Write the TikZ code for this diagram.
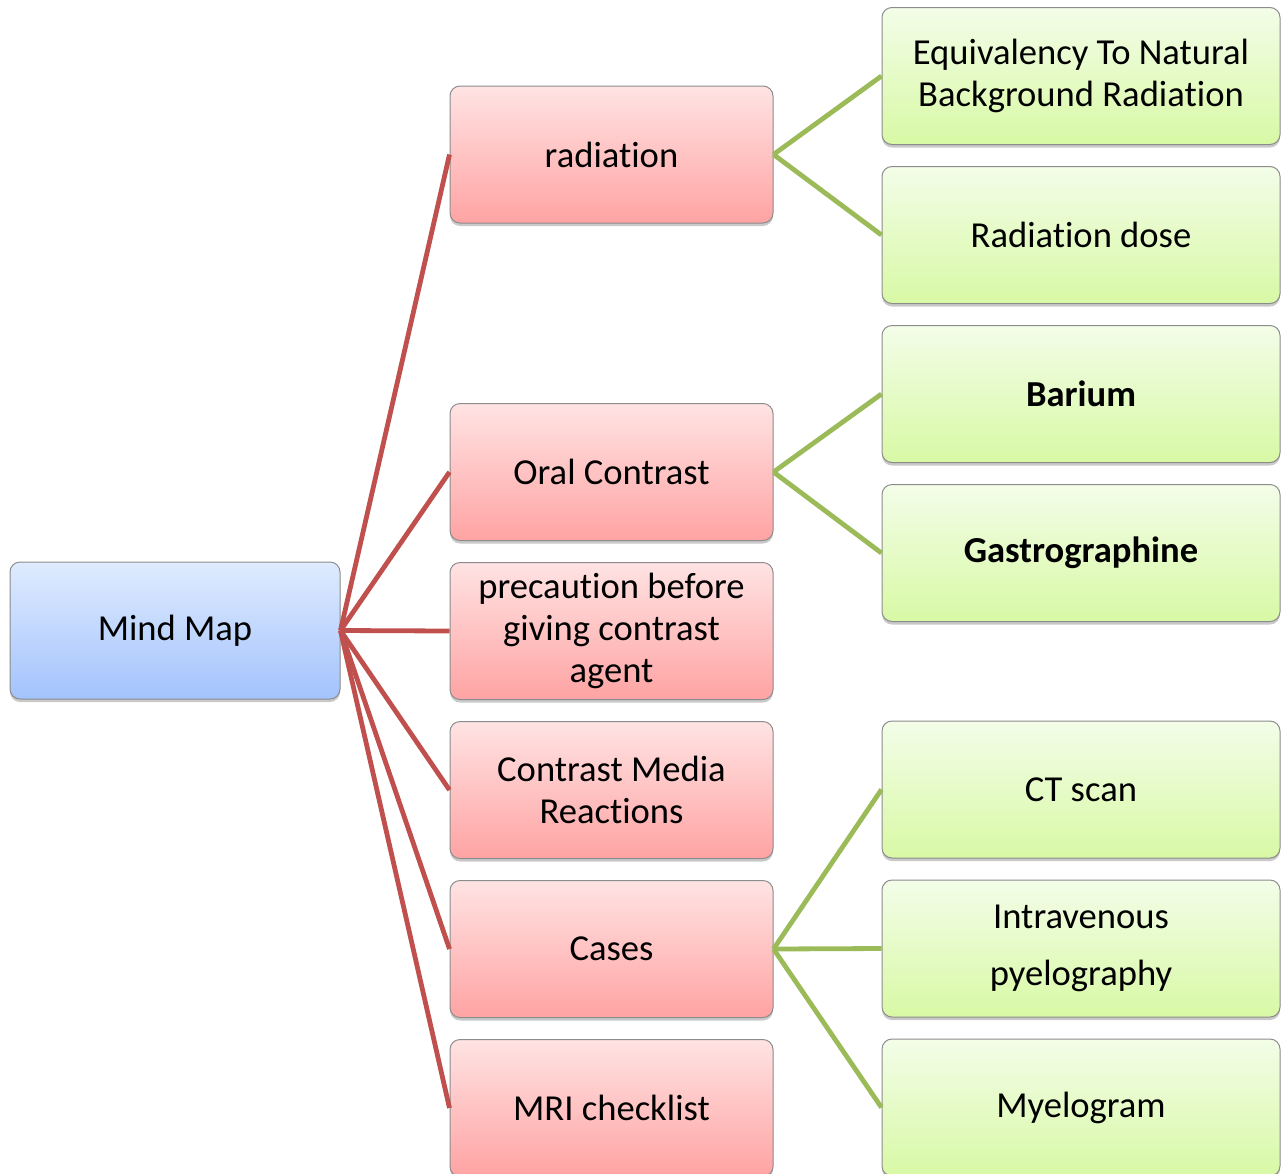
\documentclass[tikz,border=0pt]{standalone}
\usepackage{fontspec}
\setmainfont[Ligatures={NoCommon,NoContextual,NoRare}, Contextuals=NoAlternate]{Carlito}
\usetikzlibrary{positioning,shadows}

\definecolor{rootTop}{HTML}{DFEBFE}
\definecolor{rootBot}{HTML}{A3C3FD}
\definecolor{topicTop}{HTML}{FFE3E3}
\definecolor{topicBot}{HTML}{FFA3A3}
\definecolor{leafTop}{HTML}{F3FDE8}
\definecolor{leafBot}{HTML}{D8F9A5}
\definecolor{redLine}{HTML}{C0504D}
\definecolor{greenLine}{HTML}{9BBB59}

\begin{document}
\begin{tikzpicture}[
    x=0.5pt, y=-0.5pt,
    node distance=10.5pt and 55pt,
    mapbox/.style={rectangle, rounded corners=5pt, draw=black!45, line width=0.5pt, minimum height=68.5pt, align=center, font=\fontsize{18.3}{21}\selectfont, drop shadow={shadow xshift=0pt, shadow yshift=-1.5pt, opacity=0.3, fill=black!70}},
    rootbox/.style={mapbox, top color=rootTop, bottom color=rootBot, minimum width=165pt},
    topicbox/.style={mapbox, top color=topicTop, bottom color=topicBot, minimum width=161.5pt},
    leafbox/.style={mapbox, top color=leafTop, bottom color=leafBot, minimum width=199pt},
    redlink/.style={draw=redLine, line width=2.4pt},
    greenlink/.style={draw=greenLine, line width=2.4pt}
]
\useasboundingbox (0,0) rectangle (1284,1173);

% === Root ===
\node[rootbox] (mindmap) at (175,630.5) {Mind Map};

% === Topics (middle column) ===
\node[topicbox] (radiation) at (611.5,154.5) {radiation};
\node[topicbox] (oral) at (611.5,472) {Oral Contrast};
\node[topicbox, below=of oral] (precaution) {precaution before\\giving contrast\\agent};
\node[topicbox, below=of precaution] (reactions) {Contrast Media\\Reactions};
\node[topicbox, below=of reactions] (cases) {Cases};
\node[topicbox, below=of cases] (mri) {MRI checklist};

% === Leaves (right column) ===
\node[leafbox] (equiv) at (1081,76) {Equivalency To Natural\\Background Radiation};
\node[leafbox, below=of equiv] (dose) {Radiation dose};
\node[leafbox, below=of dose] (barium) {\bfseries Barium};
\node[leafbox, below=of barium] (gastro) {\bfseries Gastrographine};
\node[leafbox] (ctscan) at (1081,789.5) {CT scan};
\node[leafbox, below=of ctscan, font=\fontsize{18.3}{28.5}\selectfont] (ivp) {Intravenous\\pyelography};
\node[leafbox, below=of ivp] (myelo) {Myelogram};

% === Links ===
\foreach \t in {radiation, oral, precaution, reactions, cases, mri}
    \draw[redlink] (mindmap.east) -- (\t.west);
\draw[greenlink] (radiation.east) -- (equiv.west);
\draw[greenlink] (radiation.east) -- (dose.west);
\draw[greenlink] (oral.east) -- (barium.west);
\draw[greenlink] (oral.east) -- (gastro.west);
\foreach \l in {ctscan, ivp, myelo}
    \draw[greenlink] (cases.east) -- (\l.west);

\end{tikzpicture}
\end{document}
